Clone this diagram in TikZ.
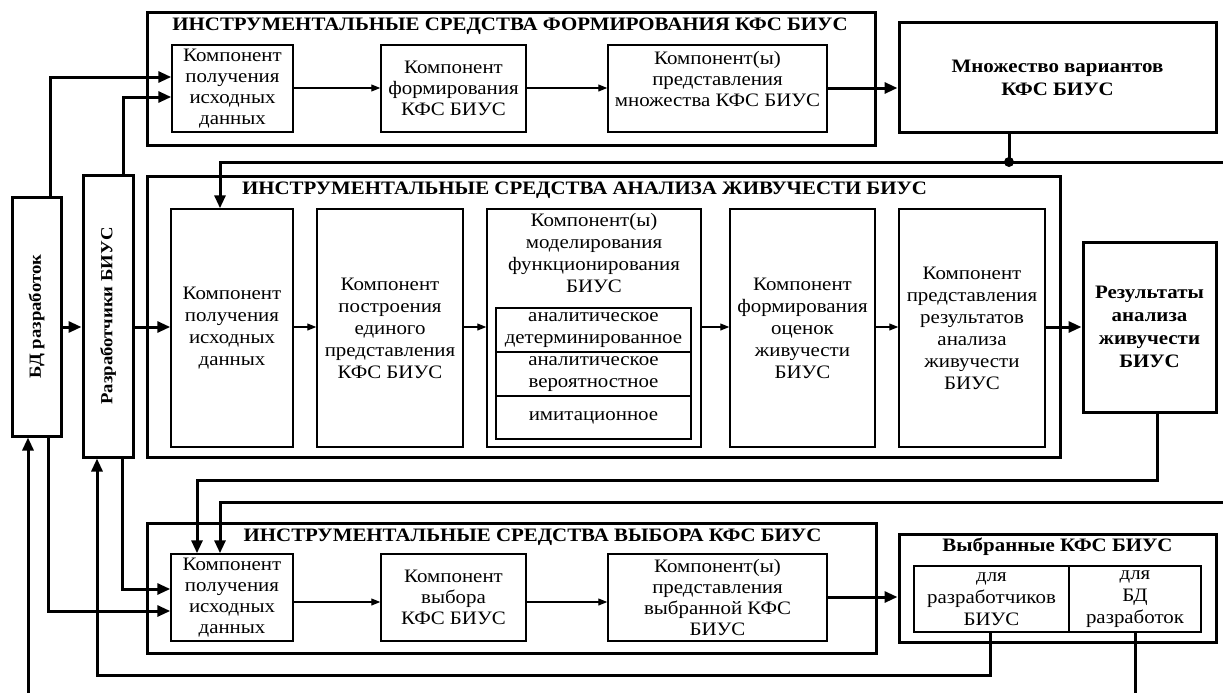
\documentclass[tikz,border=0pt]{standalone}
\usepackage{fontspec}
\setmainfont[FakeStretch=1.1]{Liberation Serif}
\usetikzlibrary{arrows.meta}
\newcommand{\myfs}{\fontsize{19}{21}\selectfont}
\newcommand{\myfsw}{\fontsize{19}{22}\selectfont}
\newcommand{\myfsb}{\fontsize{19}{23}\selectfont\bfseries}
\newcommand{\myfsv}{\fontsize{17}{20}\selectfont\bfseries}
\begin{document}
\begin{tikzpicture}[x=1pt,y=-1pt,
  box/.style={draw, line width=1.5pt, inner sep=0pt, align=center, font=\myfs},
  tallbox/.style={box, font=\myfsw},
  bigbox/.style={draw, line width=3pt, inner sep=0pt, align=center, font=\myfsb},
  txt/.style={inner sep=0pt, align=center, font=\myfsw},
  ttl/.style={inner sep=0pt, font=\myfsb},
  vttl/.style={inner sep=0pt, font=\myfsv, rotate=90},
  thickarr/.style={line width=3pt, -{Triangle[length=13pt,width=11pt]}},
  thinarr/.style={line width=1.1pt, -{Triangle[length=9pt,width=7pt]}},
  thickln/.style={line width=3pt}]
\useasboundingbox[fill=white] (0,0) rectangle (1223,693);

% ---- top container
\node[bigbox, minimum width=728pt, minimum height=132pt] (C1box) at (511,79) {};
\node[ttl] (t1) at (510,26) {ИНСТРУМЕНТАЛЬНЫЕ СРЕДСТВА ФОРМИРОВАНИЯ КФС БИУС};
\node[box, minimum width=121pt, minimum height=87pt] (A1) at (232.5,88.5) {Компонент\\получения\\исходных\\данных};
\node[box, minimum width=145pt, minimum height=87pt] (A2) at (453.5,88.5) {Компонент\\формирования\\КФС БИУС};
\node[box, minimum width=219pt, minimum height=87pt] (A3) at (717.5,88.5) {};
\node[txt, font=\myfs, anchor=north] (A3t) at (717.5,51) {Компонент(ы)\\представления\\множества КФС БИУС};
\node[bigbox, minimum width=317pt, minimum height=109pt] (MN) at (1057.5,77.5) {Множество вариантов\\КФС БИУС};

% ---- middle container
\node[bigbox, minimum width=913pt, minimum height=281pt] (C2box) at (603.5,316.5) {};
\node[ttl] (t2) at (584.5,190) {ИНСТРУМЕНТАЛЬНЫЕ СРЕДСТВА АНАЛИЗА ЖИВУЧЕСТИ БИУС};
\node[tallbox, minimum width=122pt, minimum height=238pt] (B1) at (232,328) {Компонент\\получения\\исходных\\данных};
\node[tallbox, minimum width=146pt, minimum height=238pt] (B2) at (390,328) {Компонент\\построения\\единого\\представления\\КФС БИУС};
\node[tallbox, minimum width=214pt, minimum height=238pt] (B3) at (594,328) {};
\node[txt, anchor=north] (B3t) at (594,213) {Компонент(ы)\\моделирования\\функционирования\\БИУС};
\node[tallbox, minimum width=195pt, minimum height=44pt] (S1) at (593.5,330) {аналитическое\\детерминированное};
\node[tallbox, minimum width=195pt, minimum height=44pt] (S2) at (593.5,374) {аналитическое\\вероятностное};
\node[tallbox, minimum width=195pt, minimum height=43pt] (S3) at (593.5,417.5) {имитационное};
\node[tallbox, minimum width=145pt, minimum height=238pt] (B4) at (802.5,328) {Компонент\\формирования\\оценок\\живучести\\БИУС};
\node[tallbox, minimum width=146pt, minimum height=238pt] (B5) at (972,328) {Компонент\\представления\\результатов\\анализа\\живучести\\БИУС};
\node[bigbox, minimum width=133pt, minimum height=170pt] (RES) at (1149.5,327) {Результаты\\анализа\\живучести\\БИУС};

% ---- bottom container
\node[bigbox, minimum width=729pt, minimum height=130pt] (C3box) at (511.5,588) {};
\node[ttl] (t3) at (532.5,537) {ИНСТРУМЕНТАЛЬНЫЕ СРЕДСТВА ВЫБОРА КФС БИУС};
\node[box, minimum width=122pt, minimum height=87pt] (K1) at (232,597.5) {Компонент\\получения\\исходных\\данных};
\node[box, minimum width=145pt, minimum height=87pt] (K2) at (453.5,597.5) {Компонент\\выбора\\КФС БИУС};
\node[box, minimum width=219pt, minimum height=87pt] (K3) at (717.5,597.5) {Компонент(ы)\\представления\\выбранной КФС\\БИУС};
\node[bigbox, minimum width=317pt, minimum height=108pt] (VY) at (1057.5,588) {};
\node[ttl] (t4) at (1057.5,547) {Выбранные КФС БИУС};
\node[tallbox, minimum width=155pt, minimum height=66pt] (SL) at (991.5,599) {для\\разработчиков\\БИУС};
\node[tallbox, minimum width=132pt, minimum height=66pt] (SR) at (1135,599) {для\\БД\\разработок};

% ---- left vertical boxes
\node[bigbox, minimum width=49pt, minimum height=239pt] (BD) at (36.5,316.5) {};
\node[vttl] (BDt) at (BD.center) {БД разработок};
\node[bigbox, minimum width=50pt, minimum height=282pt] (RZ) at (108,316) {};
\node[vttl] (RZt) at (RZ.center) {Разработчики БИУС};

% ---- free ends
\coordinate (e1) at (1223,162);
\coordinate (e2) at (1223,502);
\coordinate (e3) at (28,693);
\coordinate (dot) at (1009,162);

% ---- thin arrows
\draw[thinarr] (A1.east |- 0,88) -- (A2.west |- 0,88);
\draw[thinarr] (A2.east |- 0,88) -- (A3.west |- 0,88);
\draw[thinarr] (B1.east |- 0,327) -- (B2.west |- 0,327);
\draw[thinarr] (B2.east |- 0,327) -- (B3.west |- 0,327);
\draw[thinarr] (B3.east |- 0,327) -- (B4.west |- 0,327);
\draw[thinarr] (B4.east |- 0,327) -- (B5.west |- 0,327);
\draw[thinarr] (K1.east |- 0,602) -- (K2.west |- 0,602);
\draw[thinarr] (K2.east |- 0,602) -- (K3.west |- 0,602);

% ---- thick arrows
\draw[thickarr] (A3.east |- 0,88) -- (MN.west |- 0,88);
\draw[thickarr] (B5.east |- 0,327) -- (RES.west |- 0,327);
\draw[thickarr] (K3.east |- 0,597) -- (VY.west |- 0,597);

\draw[thickarr] (50,0 |- BD.north) |- (A1.west |- 0,77);
\draw[thickarr] (123,0 |- RZ.north) |- (A1.west |- 0,97);
\draw[thickarr] (BD.east |- 0,327) -- (RZ.west |- 0,327);
\draw[thickarr] (RZ.east |- 0,327) -- (B1.west |- 0,327);
\draw[thickarr] (122,0 |- RZ.south) |- (K1.west |- 0,589);
\draw[thickarr] (48,0 |- BD.south) |- (K1.west |- 0,611);
\draw[thickarr] (e3) -- (28,0 |- BD.south);

\draw[thickln] (1009,0 |- MN.south) -- (dot);
\fill (dot) circle (5pt);
\draw[thickarr] (e1) -- (220,162) -- (220,0 |- B1.north);
\draw[thickarr] (1157,0 |- RES.south) -- (1157,480) -- (197,480) -- (197,0 |- K1.north);
\draw[thickarr] (e2) -- (220,502) -- (220,0 |- K1.north);
\draw[thickarr] (990,0 |- SL.south) -- (990,675) -- (97,675) -- (97,0 |- RZ.south);
\draw[thickln] (SR.south) -- (SR.south |- 0,693);
\end{tikzpicture}
\end{document}
